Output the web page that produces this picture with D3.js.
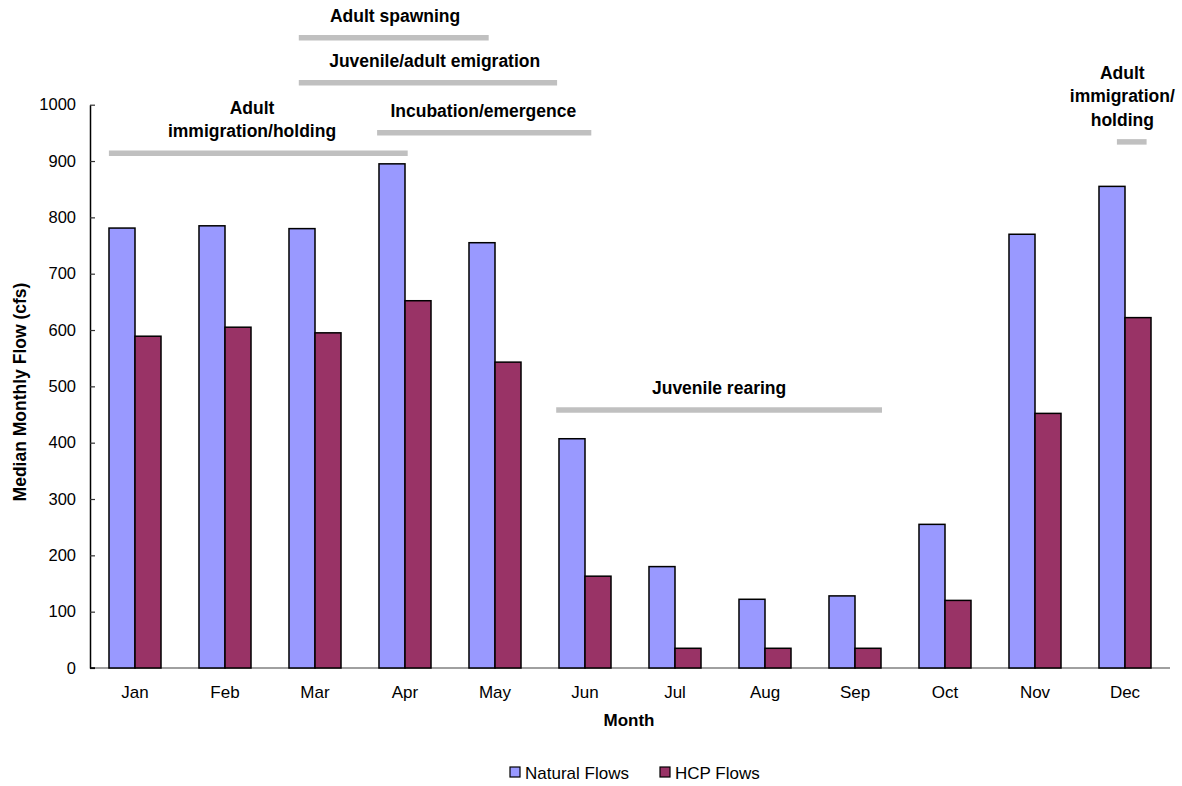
<!DOCTYPE html>
<html>
<head>
<meta charset="utf-8">
<script src="https://cdn.jsdelivr.net/npm/d3@7"></script>
<style>
  html, body { margin: 0; padding: 0; background: #fff; }
  svg { display: block; font-family: "Liberation Sans", Arial, sans-serif; }
</style>
</head>
<body>
<svg id="chart" width="1182" height="786"></svg>
<script>
// ---- data ----
const months = ["Jan","Feb","Mar","Apr","May","Jun","Jul","Aug","Sep","Oct","Nov","Dec"];
const seriesNames = ["Natural Flows","HCP Flows"];
const naturalFlows = [781, 785, 780, 895, 755, 407, 180, 122, 128, 255, 770, 855];
const hcpFlows     = [589, 605, 595, 652, 543, 163, 35, 35, 35, 120, 452, 622];
const yTicks = [0,100,200,300,400,500,600,700,800,900,1000];
// life-stage periods: start/end in month units (0 = start of Jan), level in flow units
const periods = [
  { label: ["Adult spawning"],            start: 2.32, end: 4.43, level: 1119, labelAt: 3.39 },
  { label: ["Juvenile/adult emigration"], start: 2.32, end: 5.19, level: 1039, labelAt: 3.83 },
  { label: ["Incubation/emergence"],      start: 3.19, end: 5.57, level: 950,  labelAt: 4.37 },
  { label: ["Adult","immigration/holding"], start: 0.21, end: 3.53, level: 914, labelAt: 1.80 },
  { label: ["Juvenile rearing"],          start: 5.18, end: 8.80, level: 458,  labelAt: 6.99 },
  { label: ["Adult","immigration/","holding"], start: 11.41, end: 11.74, level: 934, labelAt: 11.47 }
];

// ---- layout ----
const svg = d3.select("#chart");
const mLeft = 90, mRight = 1170, mTop = 104.7, mBottom = 668;
const colors = { "Natural Flows": "#9999FF", "HCP Flows": "#993366" };

const y = d3.scaleLinear().domain([0, 1000]).range([mBottom, mTop]);
const x0 = d3.scaleBand().domain(months).range([mLeft, mRight]).padding(0);
const x1 = d3.scaleBand().domain(seriesNames).range([0, x0.bandwidth()]).paddingInner(0).paddingOuter(0.73);
const xm = d3.scaleLinear().domain([0, 12]).range([mLeft, mRight]);

const rows = months.map((m, i) => ({ month: m, values: [
  { key: "Natural Flows", value: naturalFlows[i] },
  { key: "HCP Flows", value: hcpFlows[i] }
]}));

// x axis baseline (gray)
svg.append("line")
  .attr("x1", mLeft).attr("x2", mRight).attr("y1", mBottom).attr("y2", mBottom)
  .attr("stroke", "#808080").attr("stroke-width", 1.5);

// bars
const g = svg.append("g");
g.selectAll("g.month").data(rows).join("g")
  .attr("class", "month")
  .attr("transform", d => `translate(${x0(d.month)},0)`)
  .selectAll("rect").data(d => d.values).join("rect")
  .attr("x", d => x1(d.key))
  .attr("width", x1.bandwidth())
  .attr("y", d => y(d.value))
  .attr("height", d => mBottom - y(d.value))
  .attr("fill", d => colors[d.key])
  .attr("stroke", "#000").attr("stroke-width", 1.5);

// y axis
const yAxis = d3.axisLeft(y).tickValues(yTicks).tickFormat(d3.format("d"))
  .tickSizeInner(-5).tickSizeOuter(0).tickPadding(14);
const ya = svg.append("g").attr("transform", `translate(${mLeft},0)`).call(yAxis);
ya.select(".domain").attr("stroke", "#000").attr("stroke-width", 1.5);
ya.selectAll(".tick line").attr("stroke", "#333").attr("stroke-width", 1.2);
ya.selectAll(".tick text").attr("font-size", 16.5).attr("fill", "#000")
  .attr("font-family", "Liberation Sans, Arial, sans-serif");
svg.append("line").attr("x1", mLeft).attr("x2", mLeft + 5).attr("y1", mBottom).attr("y2", mBottom)
  .attr("stroke", "#000").attr("stroke-width", 1.5);

// x axis labels
const xAxis = d3.axisBottom(x0).tickSize(0).tickPadding(18);
const xa = svg.append("g").attr("transform", `translate(0,${mBottom})`).call(xAxis);
xa.select(".domain").remove();
xa.selectAll(".tick text").attr("font-size", 17).attr("fill", "#000")
  .attr("font-family", "Liberation Sans, Arial, sans-serif");

// axis titles
svg.append("text").attr("x", (mLeft + mRight) / 2 - 1).attr("y", 726)
  .attr("text-anchor", "middle").attr("font-size", 17).attr("font-weight", "bold").text("Month");
svg.append("text")
  .attr("transform", `translate(26,392) rotate(-90)`)
  .attr("text-anchor", "middle").attr("font-size", 17.5).attr("font-weight", "bold")
  .text("Median Monthly Flow (cfs)");

// period annotations
const pg = svg.append("g");
periods.forEach(p => {
  const ly = y(p.level);
  pg.append("line")
    .attr("x1", xm(p.start)).attr("x2", xm(p.end))
    .attr("y1", ly).attr("y2", ly)
    .attr("stroke", "#C0C0C0").attr("stroke-width", 5.5);
  const n = p.label.length;
  p.label.forEach((t, i) => {
    pg.append("text")
      .attr("x", xm(p.labelAt))
      .attr("y", ly - 22 - (n - 1 - i) * 23.5 + 6)
      .attr("text-anchor", "middle")
      .attr("font-size", 17.5).attr("font-weight", "bold").attr("fill", "#000")
      .text(t);
  });
});

// legend
const legendItems = [
  { key: "Natural Flows", x: 510 },
  { key: "HCP Flows", x: 660 }
];
const lg = svg.append("g");
legendItems.forEach(it => {
  lg.append("rect").attr("x", it.x).attr("y", 767).attr("width", 10).attr("height", 10)
    .attr("fill", colors[it.key]).attr("stroke", "#000").attr("stroke-width", 1.2);
  lg.append("text").attr("x", it.x + 15).attr("y", 778.5)
    .attr("font-size", 17).attr("fill", "#000").text(it.key);
});
</script>
</body>
</html>
